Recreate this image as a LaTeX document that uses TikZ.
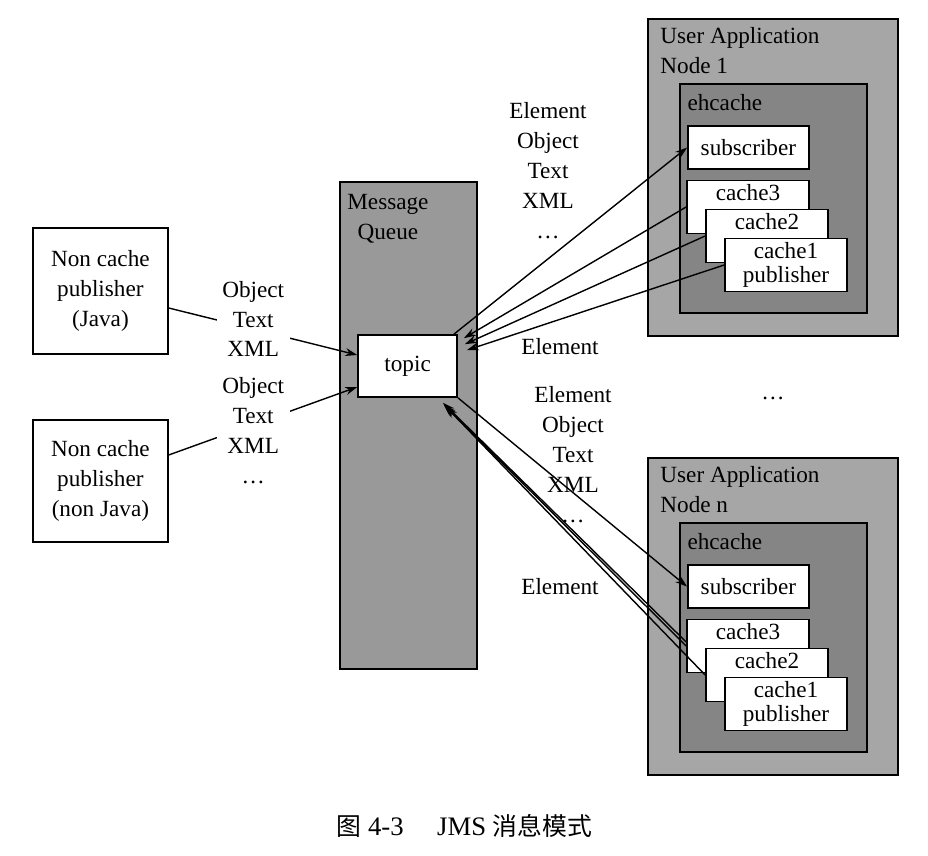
\documentclass[tikz,border=0pt]{standalone}
\usepackage{fontspec}
\setmainfont{Liberation Serif}
\newfontfamily\cjk[Scale=0.93]{Noto Sans CJK SC}
\usepackage{tikz}
\usetikzlibrary{shapes.geometric, arrows, arrows.meta}
\tikzstyle{queue} = [rectangle, draw=black, line width=1.2pt, fill=black!40, inner sep=0pt]
\tikzstyle{app} = [rectangle, draw=black, line width=1.2pt, fill=black!35, inner sep=0pt]
\tikzstyle{ehcache} = [rectangle, draw=black, line width=1.2pt, fill=black!48, inner sep=0pt]
\tikzstyle{wbox} = [rectangle, draw=black, line width=1.2pt, fill=white, text centered, align=center]
\tikzstyle{cachebox} = [wbox, minimum width=3.05cm, minimum height=1.3cm, inner ysep=0.1cm, font=\fontsize{16.5}{17}\selectfont]
\tikzstyle{title} = [anchor=north west, inner sep=0.1cm]
\tikzstyle{msg} = [align=center, inner sep=0.05cm]
\tikzstyle{arrow} = [line width=1pt, ->, >={Stealth[length=3mm, width=2mm]}]

\begin{document}
\begin{tikzpicture}[font=\fontsize{16.5}{21.3}\selectfont]
\useasboundingbox (0,0) rectangle (23.2,21.4);
\node(mq)[queue, minimum width=3.425cm, minimum height=12.175cm] at (10.21,10.76) {};
\node(mqtitle)[title, align=center, xshift=0.1cm, yshift=-0.225cm] at (mq.north west) {Message\\Queue};
\node(topic)[wbox, minimum width=2.475cm, minimum height=1.55cm] at (10.19,12.25) {topic};
\node(java)[wbox, minimum width=3.375cm, minimum height=3.15cm] at (2.51,14.125) {Non cache\\publisher\\(Java)};
\node(nonjava)[wbox, minimum width=3.375cm, minimum height=3.05cm] at (2.51,9.375) {Non cache\\publisher\\(non Java)};

\node(app1)[app, minimum width=6.25cm, minimum height=7.925cm] at (19.325,16.96) {};
\node(app1title)[title, align=left, xshift=0.225cm, yshift=-0.125cm] at (app1.north west) {User Application\\Node 1};
\node(eh1)[ehcache, minimum width=4.675cm, minimum height=5.725cm] at (19.34,16.44) {};
\node(eh1title)[title, xshift=0.1cm, yshift=-0.175cm] at (eh1.north west) {ehcache};
\node(sub1)[wbox, minimum width=3.025cm, minimum height=1.075cm] at (18.71,17.71) {subscriber};
\node(c3a)[cachebox] at (18.7,16.225) {cache3\\\phantom{publisher}};
\node(c2a)[cachebox, node distance=0.725cm, below of=c3a, xshift=0.475cm] {cache2\\\phantom{publisher}};
\node(c1a)[cachebox, node distance=0.725cm, below of=c2a, xshift=0.475cm] {cache1\\publisher};

\node(appn)[app, minimum width=6.25cm, minimum height=7.925cm, node distance=10.975cm, below of=app1] {};
\node(appntitle)[title, align=left, xshift=0.225cm, yshift=-0.125cm] at (appn.north west) {User Application\\Node n};
\node(ehn)[ehcache, minimum width=4.675cm, minimum height=5.725cm, node distance=10.975cm, below of=eh1] {};
\node(ehntitle)[title, xshift=0.1cm, yshift=-0.175cm] at (ehn.north west) {ehcache};
\node(subn)[wbox, minimum width=3.025cm, minimum height=1.075cm, node distance=10.975cm, below of=sub1] {subscriber};
\node(c3n)[cachebox, node distance=10.975cm, below of=c3a] {cache3\\\phantom{publisher}};
\node(c2n)[cachebox, node distance=0.725cm, below of=c3n, xshift=0.475cm] {cache2\\\phantom{publisher}};
\node(c1n)[cachebox, node distance=0.725cm, below of=c2n, xshift=0.475cm] {cache1\\publisher};

\draw[arrow] ([yshift=-0.425cm]java.east) -- ([yshift=0.275cm]topic.west);
\draw[arrow] ([yshift=0.65cm]nonjava.east) -- ([yshift=-0.525cm]topic.west);
\node(lab1)[msg, fill=white, inner xsep=0.14cm] at (6.33,13.425) {Object\\Text\\XML};
\node(lab2)[msg, fill=white, inner xsep=0.14cm] at (6.33,10.625) {Object\\Text\\XML\\\dots};

\draw[arrow] ([xshift=-0.1cm]topic.north east) -- (sub1.west);
\draw[arrow] (c3a.west) -- ([xshift=0.15cm,yshift=-0.1cm]topic.north east);
\draw[arrow] (c2a.west) -- ([xshift=0.175cm,yshift=-0.25cm]topic.north east);
\draw[arrow] (c1a.west) -- ([xshift=0.225cm,yshift=-0.4cm]topic.north east);

\draw[arrow] (topic.south east) -- (subn.west);
\draw[arrow] ([yshift=0.1cm]c3n.west) -- ([xshift=-0.375cm,yshift=-0.125cm]topic.south east);
\draw[arrow] (c3n.west) -- ([xshift=-0.35cm,yshift=-0.175cm]topic.south east);
\draw[arrow] (c2n.west) -- ([xshift=-0.3cm,yshift=-0.225cm]topic.south east);

\node(lab3)[msg] at (13.7,17.125) {Element\\Object\\Text\\XML\\\dots};
\node(lab4)[msg] at (14.0,12.725) {Element};
\node(lab5)[msg] at (14.325,10.025) {Element\\Object\\Text\\XML\\\dots};
\node(lab6)[msg] at (14.0,6.725) {Element};
\node(more)[msg] at (19.325,11.45) {\dots};

\node(caption) at (11.61,0.75) {\fontsize{19}{23}\selectfont{\cjk 图}\ 4-3\quad\ JMS\ {\cjk 消息模式}};
\end{tikzpicture}
\end{document}
